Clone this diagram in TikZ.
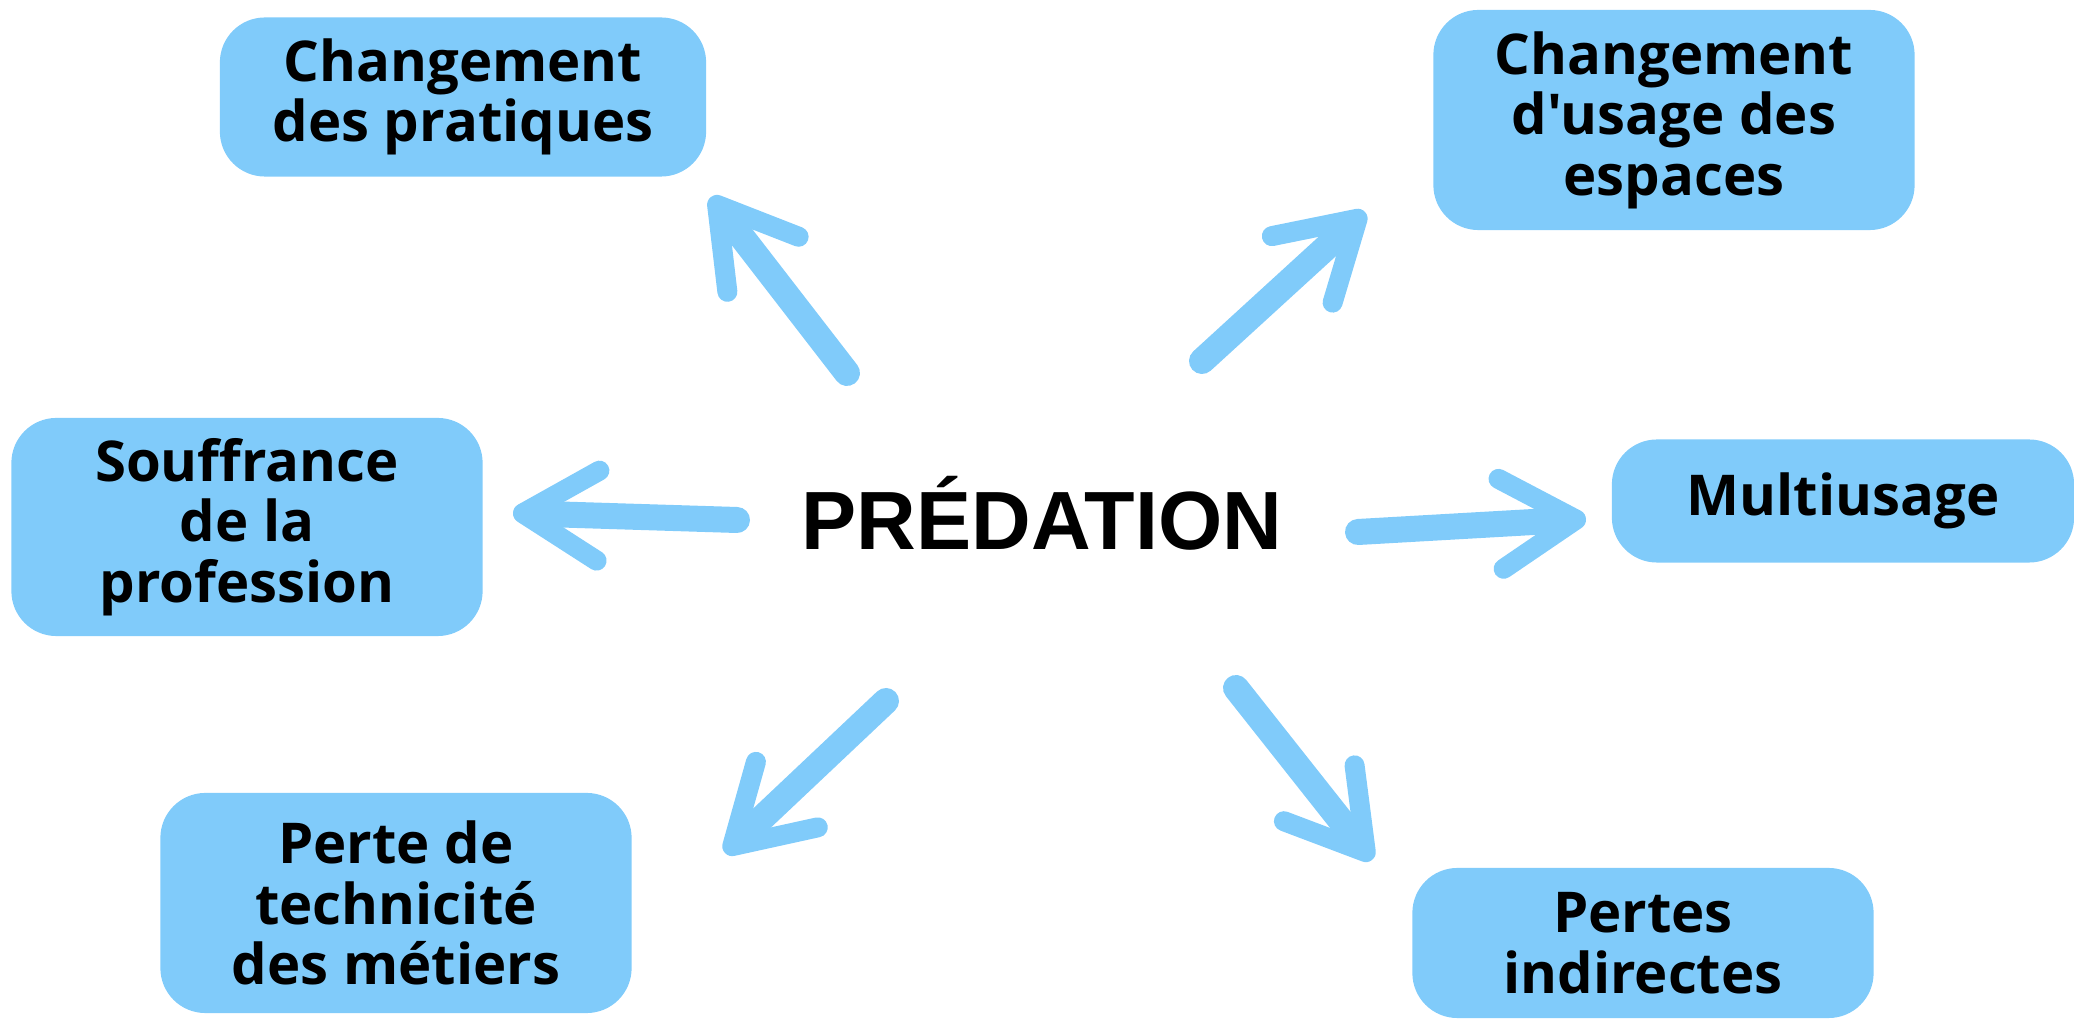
\documentclass[tikz,border=0pt]{standalone}
\usepackage{fontspec}
\setmainfont{Open Sans}[Ligatures=TeXOff]
\newfontfamily\titrefont{Liberation Sans}
\usepackage{xcolor}
\usetikzlibrary{arrows.meta}
\definecolor{bleu}{HTML}{80CBFA}

\tikzset{
  boite/.style={fill=bleu, rounded corners=0.45cm, align=center, inner sep=0pt,
    font=\fontsize{16}{17.2}\selectfont\bfseries},
  fleche/.style={draw=bleu, line width=0.26cm, line cap=round,
    -{Straight Barb[length=0.75cm, width=0.9cm, line width=0.2cm, round]}}
}

\begin{document}
\begin{tikzpicture}[x=0.01cm, y=-0.01cm]
  \useasboundingbox (0,0) rectangle (2074,1019);

  % Centre
  \node[font=\titrefont\fontsize{23.5}{23.5}\selectfont\bfseries, anchor=base] (pred) at (1042,550) {PRÉDATION};

  % Boites
  \node[boite, minimum width=4.86cm, minimum height=1.59cm] (prat) at (463,97) {Changement\\des pratiques};
  \node[boite, minimum width=4.81cm, minimum height=2.20cm] (esp) at (1674,120) {Changement\\d'usage des\\espaces};
  \node[boite, minimum width=4.71cm, minimum height=2.18cm] (souf) at (247,527) {Souffrance\\de la\\profession};
  \node[boite, minimum width=4.62cm, minimum height=1.23cm] (multi) at (1843,501) {Multiusage};
  \node[boite, minimum width=4.71cm, minimum height=2.20cm] (tech) at (396,903) {Perte de\\technicité\\des métiers};
  \node[boite, minimum width=4.61cm, minimum height=1.50cm] (ind) at (1643,943) {Pertes\\indirectes};

  % Fleches
  \coordinate (d1) at (847,373);  \coordinate (f1) at (711,197);
  \coordinate (d2) at (1202,361); \coordinate (f2) at (1365,212);
  \coordinate (d3) at (737,520);  \coordinate (f3) at (513,513);
  \coordinate (d4) at (1358,532); \coordinate (f4) at (1586,519);
  \coordinate (d5) at (886,701);  \coordinate (f5) at (725,853);
  \coordinate (d6) at (1236,688); \coordinate (f6) at (1372,860);

  \draw[fleche] (d1) -- (f1);
  \draw[fleche] (d2) -- (f2);
  \draw[fleche] (d3) -- (f3);
  \draw[fleche] (d4) -- (f4);
  \draw[fleche] (d5) -- (f5);
  \draw[fleche] (d6) -- (f6);
\end{tikzpicture}
\end{document}
